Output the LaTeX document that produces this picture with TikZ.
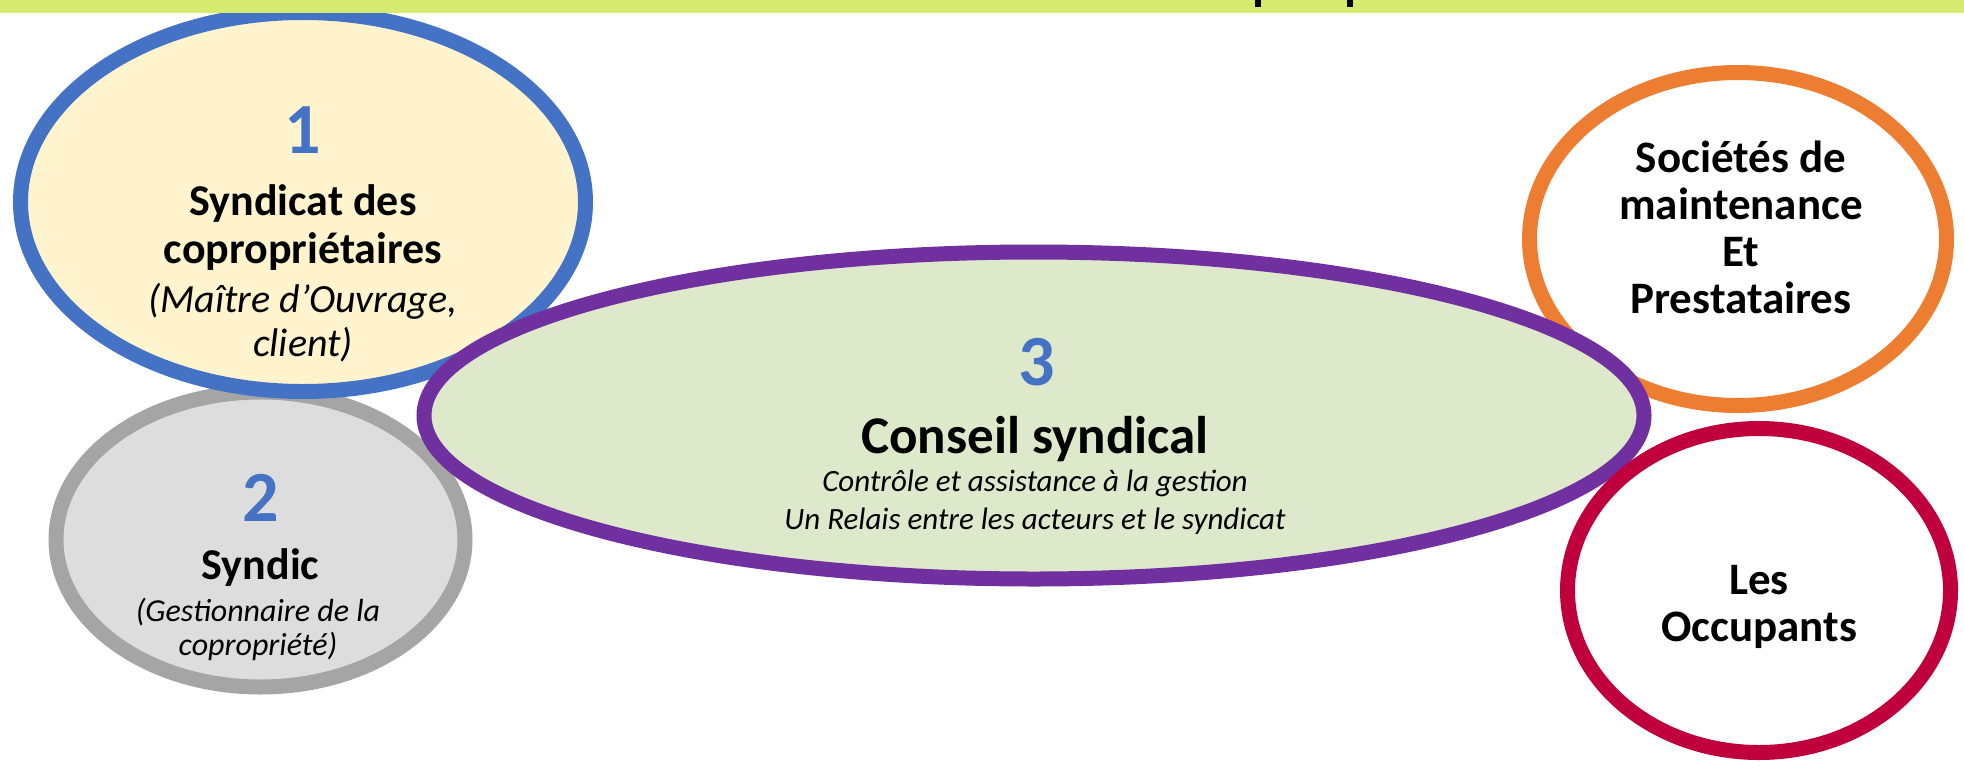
\documentclass[tikz,border=0pt]{standalone}
\usepackage{fontspec}
\setmainfont{Carlito}
\usetikzlibrary{shapes.geometric}
\definecolor{barcol}{RGB}{213,234,110}
\definecolor{numblue}{RGB}{68,114,196}
\definecolor{yelfill}{RGB}{255,244,206}
\definecolor{graybd}{RGB}{165,165,165}
\definecolor{grayfill}{RGB}{221,221,221}
\definecolor{purplebd}{RGB}{112,48,160}
\definecolor{greenfill}{RGB}{222,232,203}
\definecolor{orangebd}{RGB}{237,125,49}
\definecolor{crimsonbd}{RGB}{192,0,62}
\begin{document}
\begin{tikzpicture}[x=1pt,y=-1pt,
  oval/.style={ellipse, draw, line width=15pt, inner sep=0pt},
  num/.style={anchor=base, text=numblue, inner sep=0pt, font=\bfseries\fontsize{72}{72}\selectfont},
  head/.style={anchor=base, inner sep=0pt, font=\bfseries\fontsize{44}{44}\selectfont},
  big/.style={anchor=base, inner sep=0pt, font=\bfseries\fontsize{53}{53}\selectfont},
  note/.style={anchor=base, inner sep=0pt, font=\itshape\fontsize{#1}{#1}\selectfont},
  side/.style={anchor=base, inner sep=0pt, font=\bfseries\fontsize{45}{45}\selectfont}]
\useasboundingbox (0,0) rectangle (1964,774);
% ellipses
\node[oval, draw=graybd, fill=grayfill, minimum width=409pt, minimum height=295pt] (e2) at (260.5,539.5) {};
\node[oval, draw=numblue, fill=yelfill, minimum width=565pt, minimum height=379pt] (e1) at (303,202) {};
\node[oval, draw=orangebd, fill=white, minimum width=417pt, minimum height=333pt] (e4) at (1738,239) {};
\node[oval, draw=purplebd, fill=greenfill, minimum width=1220pt, minimum height=327pt] (e3) at (1034,415.5) {};
\node[oval, draw=crimsonbd, fill=white, minimum width=383pt, minimum height=324pt] (e5) at (1759,590.5) {};
% top bar
\fill[barcol] (0,0) rectangle (1964,13);
\fill[black] (1255,0) rectangle (1261,7);
\fill[black] (1347,0) rectangle (1353,7);
% texts ellipse 1
\node[num] (n1) at (303,153) {1};
\node[head] (t1a) at (303,215) {Syndicat des};
\node[head] (t1b) at (303,263) {copropriétaires};
\node[note=40] (t1c) at (303,312) {(Maître d’Ouvrage,};
\node[note=40] (t1d) at (303,356) {client)};
% texts ellipse 2
\node[num] (n2) at (260.5,521) {2};
\node[head] (t2a) at (260.5,579) {Syndic};
\node[note=32] (t2b) at (258,621) {(Gestionnaire de la};
\node[note=32] (t2c) at (258,655) {copropriété)};
% texts ellipse 3
\node[num] (n3) at (1037,385) {3};
\node[big] (t3a) at (1035,453) {Conseil syndical};
\node[note=31] (t3b) at (1035,491) {Contrôle et assistance à la gestion};
\node[note=31] (t3c) at (1035,529) {Un Relais entre les acteurs et le syndicat};
% right ellipses
\node[side] (t4a) at (1741,172) {Sociétés de};
\node[side] (t4b) at (1741,219) {maintenance};
\node[side] (t4c) at (1741,266) {Et};
\node[side] (t4d) at (1741,313) {Prestataires};
\node[side] (t5a) at (1759,594) {Les};
\node[side] (t5b) at (1759,641) {Occupants};
\end{tikzpicture}
\end{document}
